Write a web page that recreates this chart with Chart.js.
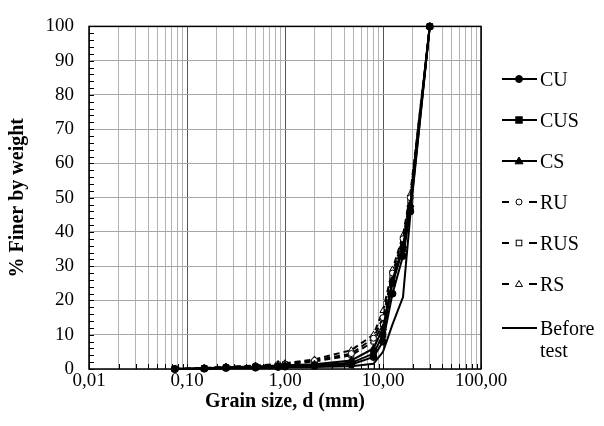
<!DOCTYPE html>
<html>
<head>
<meta charset="utf-8">
<script src="https://cdn.jsdelivr.net/npm/chart.js@4.4.0/dist/chart.umd.min.js"></script>
<style>
  html, body { margin: 0; padding: 0; background: #fff; }
  #wrap { position: relative; width: 604px; height: 426px; }
  #legend { position: absolute; left: 0; top: 0; font-family: "Liberation Serif", "Times New Roman", serif; font-size: 20px; color: #000; }
  .item { position: absolute; left: 500px; height: 22px; line-height: 22px; white-space: nowrap; }
  .item svg { position: absolute; left: 0; top: 0; }
  .item span { position: absolute; left: 40px; top: 0; }
</style>
</head>
<body>
<div id="wrap">
  <canvas id="chart" width="604" height="426"></canvas>
  <div id="legend"></div>
</div>
<script>
// sieve sizes (mm) and % finer for each sample
var sieveSizes = [0.075, 0.15, 0.25, 0.5, 0.85, 1, 2, 4.75, 8, 10, 12.5, 16, 19, 30];
var cu         = [0, 0.1, 0.3, 0.4, 0.6, 0.7, 0.9, 1.3, 3.5, 8, 22, 33, 46, 100];
var cus        = [0, 0.2, 0.4, 0.6, 0.8, 0.9, 1.1, 1.8, 4.5, 10, 25, 35, 47, 100];
var cs         = [0, 0.2, 0.5, 0.7, 1, 1.1, 1.4, 2.5, 6, 12, 26, 36, 48, 100];
var ru         = [0, 0.3, 0.6, 0.9, 1.3, 1.5, 2.5, 4.5, 9, 15, 28, 38, 50, 100];
var rus        = [0, 0.2, 0.5, 0.8, 1.2, 1.4, 2.2, 4, 8, 13, 27, 37, 49, 100];
var rs         = [0, 0.3, 0.6, 1, 1.5, 1.7, 2.8, 5.5, 10, 17, 29, 39, 51, 100];
var beforeTest = [0, 0.1, 0.2, 0.3, 0.4, 0.5, 0.6, 0.8, 1.5, 5, 13, 21, 45, 100];

var seriesNames = ["CU", "CUS", "CS", "RU", "RUS", "RS", "Before test"];
var xDecades = [0.01, 0.1, 1, 10, 100];

function pts(vals) {
  return vals.map(function (v, i) { return { x: sieveSizes[i], y: v }; });
}

// every gridline value on the log axis: 1..9 x 10^k
var xGridValues = [];
for (var k = 0; k < xDecades.length - 1; k++) {
  for (var m = 1; m <= 9; m++) xGridValues.push(+(m * xDecades[k]).toPrecision(3));
}
xGridValues.push(xDecades[xDecades.length - 1]);

function isDecade(v) {
  var l = Math.log10(v);
  return Math.abs(l - Math.round(l)) < 1e-9;
}

function ds(label, vals, style, filled, dashed, radius) {
  return {
    label: label,
    data: pts(vals),
    borderColor: '#000',
    backgroundColor: filled ? '#000' : '#fff',
    borderWidth: 2,
    borderDash: dashed ? [6, 4] : [],
    pointStyle: style,
    pointRadius: radius,
    pointBorderWidth: 1,
    pointBorderColor: '#000',
    pointBackgroundColor: filled ? '#000' : '#fff',
    clip: false,
    tension: 0
  };
}

var datasets = [
  ds(seriesNames[0], cu, 'circle', true, false, 3.5),
  ds(seriesNames[1], cus, 'rect', true, false, 4),
  ds(seriesNames[2], cs, 'triangle', true, false, 4),
  ds(seriesNames[3], ru, 'circle', false, true, 3),
  ds(seriesNames[4], rus, 'rect', false, true, 3.5),
  ds(seriesNames[5], rs, 'triangle', false, true, 3.5),
  ds(seriesNames[6], beforeTest, false, true, false, 0)
];

// frame around the plot and inner tick marks
var framePlugin = {
  id: 'frame',
  beforeDatasetsDraw: function (chart) {
    var ctx = chart.ctx, a = chart.chartArea;
    var xs = chart.scales.x, ys = chart.scales.y;
    ctx.save();
    ctx.strokeStyle = '#000';
    ctx.lineWidth = 1;
    for (var v = 0; v <= 100; v += 2) {
      var py = Math.round(ys.getPixelForValue(v)) + 0.5;
      ctx.beginPath(); ctx.moveTo(a.left, py); ctx.lineTo(a.left + 5, py); ctx.stroke();
    }
    xGridValues.forEach(function (xv) {
      var px = Math.round(xs.getPixelForValue(xv)) + 0.5;
      ctx.beginPath(); ctx.moveTo(px, a.bottom); ctx.lineTo(px, a.bottom - 5); ctx.stroke();
    });
    ctx.lineWidth = 1.5;
    ctx.strokeRect(a.left, a.top, a.right - a.left, a.bottom - a.top);
    ctx.restore();
  }
};

var serif = "'Liberation Serif', 'Times New Roman', serif";

new Chart(document.getElementById('chart'), {
  type: 'line',
  data: { datasets: datasets },
  plugins: [framePlugin],
  options: {
    responsive: false,
    animation: false,
    layout: { padding: { left: 2, right: 123, top: 21, bottom: 9 } },
    plugins: { legend: { display: false }, tooltip: { enabled: false } },
    scales: {
      x: {
        type: 'logarithmic',
        min: 0.01,
        max: 100,
        afterBuildTicks: function (axis) {
          axis.ticks = xGridValues.map(function (v) { return { value: v }; });
        },
        afterFit: function (axis) { axis.height = 48; },
        ticks: {
          autoSkip: false,
          maxRotation: 0,
          padding: 1,
          color: '#000',
          font: { family: serif, size: 19 },
          callback: function (v) {
            return isDecade(v) ? v.toFixed(2).replace('.', ',') : '';
          }
        },
        grid: {
          drawTicks: false,
          lineWidth: 1,
          color: function (c) {
            return c.tick && isDecade(c.tick.value) ? '#555' : '#b3b3b3';
          }
        },
        border: { display: false },
        title: {
          display: true,
          text: 'Grain size, d (mm)',
          color: '#000',
          font: { family: serif, size: 20, weight: 'bold' },
          padding: { top: 0, bottom: 3 }
        }
      },
      y: {
        min: 0,
        max: 100,
        afterFit: function (axis) { axis.width = 87; },
        ticks: {
          stepSize: 10,
          padding: 15,
          color: '#000',
          font: { family: serif, size: 19 }
        },
        grid: { drawTicks: false, color: '#a6a6a6', lineWidth: 1 },
        border: { display: false },
        title: {
          display: true,
          text: '% Finer by weight',
          color: '#000',
          font: { family: serif, size: 20, weight: 'bold' },
          padding: { top: 4, bottom: 4 }
        }
      }
    }
  }
});

// legend on the right, built from the same datasets
var legendTops = [79, 120, 161, 202, 243, 284, 328];
var legend = document.getElementById('legend');
datasets.forEach(function (d, i) {
  var item = document.createElement('div');
  item.className = 'item';
  item.style.top = (legendTops[i] - 11) + 'px';
  var svg = '<svg width="38" height="22" xmlns="http://www.w3.org/2000/svg">';
  if (d.borderDash.length) {
    svg += '<line x1="2" y1="11" x2="9" y2="11" stroke="#000" stroke-width="2"/>';
    svg += '<line x1="29" y1="11" x2="37" y2="11" stroke="#000" stroke-width="2"/>';
  } else {
    svg += '<line x1="2" y1="11" x2="37" y2="11" stroke="#000" stroke-width="2"/>';
  }
  var f = d.pointBackgroundColor, r = d.pointRadius;
  if (d.pointStyle === 'circle') {
    svg += '<circle cx="19" cy="11" r="' + r + '" fill="' + f + '" stroke="#000" stroke-width="1"/>';
  } else if (d.pointStyle === 'rect') {
    svg += '<rect x="' + (19 - r * 0.8) + '" y="' + (11 - r * 0.8) + '" width="' + (r * 1.6) + '" height="' + (r * 1.6) + '" fill="' + f + '" stroke="#000" stroke-width="1"/>';
  } else if (d.pointStyle === 'triangle') {
    svg += '<polygon points="19,' + (11 - r) + ' ' + (19 + r) + ',' + (11 + r * 0.7) + ' ' + (19 - r) + ',' + (11 + r * 0.7) + '" fill="' + f + '" stroke="#000" stroke-width="1"/>';
  }
  svg += '</svg>';
  var txt = d.label === 'Before test' ? 'Before<br>test' : d.label;
  item.innerHTML = svg + '<span>' + txt + '</span>';
  legend.appendChild(item);
});
</script>
</body>
</html>
